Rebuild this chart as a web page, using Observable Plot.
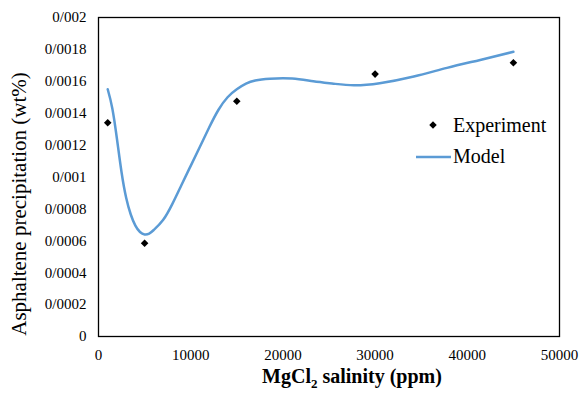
<!DOCTYPE html>
<html><head><meta charset="utf-8">
<script src="https://cdn.jsdelivr.net/npm/d3@7"></script>
<script src="https://cdn.jsdelivr.net/npm/@observablehq/plot@0.6"></script>
<style>
body{margin:0;background:#fff;}
#wrap{position:relative;width:579px;height:396px;}
#wrap svg, #wrap svg text, #wrap svg g { font-family: "Liberation Serif", "Times New Roman", serif !important; }
</style></head><body><div id="wrap"></div>
<script>
// Experimental points
const expX = [1000, 5000, 15000, 30000, 45000];
const expY = [0.00134, 0.000585, 0.001475, 0.001645, 0.001716];
// Model curve
const modelX = [1000, 1500, 2000, 2500, 3000, 3500, 4000, 4500, 5000, 5500, 6000, 7000, 8000, 9000, 10000, 11000, 12000, 13000, 14000, 15000, 16000, 17000, 18600, 21000, 23300, 25500, 27700, 30500, 34200, 37800, 41400, 45000];
const modelY = [0.00155, 0.00143, 0.00124, 0.00103, 0.00087, 0.000765, 0.000695, 0.000655, 0.00064, 0.000645, 0.000668, 0.00073, 0.00083, 0.00095, 0.00107, 0.00119, 0.00131, 0.00142, 0.0015, 0.00155, 0.001585, 0.001605, 0.001616, 0.001617, 0.0016, 0.001585, 0.001575, 0.001588, 0.00163, 0.001684, 0.001734, 0.001785];
// Ticks
const xTicks = [0, 10000, 20000, 30000, 40000, 50000];
const xTickLabels = ["0", "10000", "20000", "30000", "40000", "50000"];
const yTicks = [0, 0.0002, 0.0004, 0.0006, 0.0008, 0.001, 0.0012, 0.0014, 0.0016, 0.0018, 0.002];
const yTickLabels = ["0", "0/0002", "0/0004", "0/0006", "0/0008", "0/001", "0/0012", "0/0014", "0/0016", "0/0018", "0/002"];
const seriesNames = ["Experiment", "Model"];

const expData = expX.map((x, i) => ({x, y: expY[i]}));
const modelData = modelX.map((x, i) => ({x, y: modelY[i]}));

const FONT = "Liberation Serif, Times New Roman, serif";
const BLUE = "#5B9BD5";

const chart = Plot.plot({
  width: 579, height: 396,
  marginLeft: 98, marginRight: 20, marginTop: 17, marginBottom: 60,
  style: {fontFamily: FONT, fontSize: "15px", background: "white", color: "black", overflow: "visible"},
  x: {domain: [0, 50000], ticks: xTicks, tickSize: 0, tickPadding: 13,
      tickFormat: d => xTickLabels[xTicks.indexOf(d)], label: null},
  y: {domain: [0, 0.002], ticks: yTicks, tickSize: 0, tickPadding: 12,
      tickFormat: d => yTickLabels[yTicks.indexOf(d)], label: null},
  marks: [
    Plot.frame({stroke: "black", strokeWidth: 1.3}),
    Plot.line(modelData, {x: "x", y: "y", stroke: BLUE, strokeWidth: 2.5, curve: "natural"}),
    Plot.dot(expData, {x: "x", y: "y", symbol: "diamond2", fill: "black", stroke: "none", r: 3.4})
  ]
});

const svg = d3.select(chart);
// Axis titles
svg.append("text")
  .attr("transform", "translate(26,204) rotate(-90)")
  .attr("text-anchor", "middle")
  .attr("font-size", 21).attr("fill", "black")
  .text("Asphaltene precipitation (wt%)");
const xt = svg.append("text")
  .attr("x", 352).attr("y", 383)
  .attr("text-anchor", "middle")
  .attr("font-size", 20).attr("font-weight", "bold").attr("fill", "black");
xt.append("tspan").text("MgCl");
xt.append("tspan").attr("font-size", 13).attr("dy", 5).text("2");
xt.append("tspan").attr("dy", -5).text(" salinity (ppm)");

// Legend
const lg = svg.append("g").attr("font-size", 20).attr("fill", "black").attr("text-anchor", "start");
lg.append("path").attr("d", d3.symbol(d3.symbolDiamond2, Math.PI * 3.4 * 3.4)()).attr("transform", "translate(433,125)").attr("fill", "black");
lg.append("text").attr("x", 453).attr("y", 132.3).attr("text-anchor", "start").text(seriesNames[0]);
lg.append("line").attr("x1", 416).attr("x2", 451).attr("y1", 157).attr("y2", 157).attr("stroke", BLUE).attr("stroke-width", 2.5);
lg.append("text").attr("x", 453).attr("y", 163.3).attr("text-anchor", "start").text(seriesNames[1]);

document.getElementById("wrap").appendChild(chart);
</script>
</body></html>
